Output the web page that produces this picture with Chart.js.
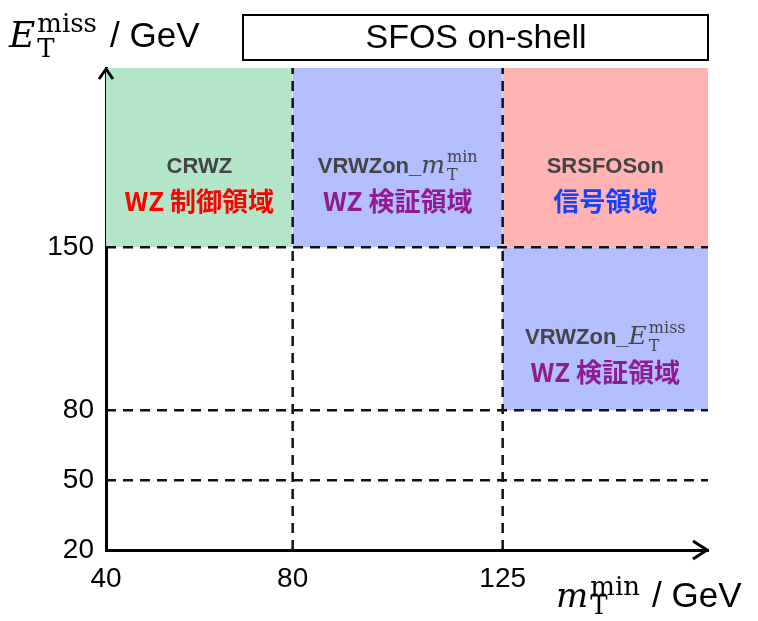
<!DOCTYPE html>
<html>
<head>
<meta charset="utf-8">
<script src="https://cdn.jsdelivr.net/npm/chart.js@4.4.1/dist/chart.umd.min.js"></script>
<style>
  html, body { margin: 0; padding: 0; background: #ffffff; }
  #wrap { width: 758px; height: 621px; }
</style>
</head>
<body>
<div id="wrap"><canvas id="c" width="758" height="621"></canvas></div>
<script>
// Plane of m_T^min (GeV) versus E_T^miss (GeV)
const xRange = [40, 169];
const yRange = [20, 227];
const xTicks = [40, 80, 125];
const yTicks = [20, 50, 80, 150];

// Selection regions: m_T^min window and E_T^miss window
const regionNames = ['CRWZ', 'VRWZon_', 'SRSFOSon', 'VRWZon_'];
const regionSymbols = [null, ['m', 'min', 'T'], null, ['E', 'miss', 'T']];
const regionKinds = ['WZ 制御領域', 'WZ 検証領域', '信号領域', 'WZ 検証領域'];
const regionXLow = [40, 80, 125, 125];
const regionXHigh = [80, 125, 169, 169];
const regionYLow = [150, 150, 150, 80];
const regionYHigh = [227, 227, 227, 150];
const regionColors = ['#b3e6c8', '#b3bfff', '#ffb3b3', '#b3bfff'];
const kindColors = ['#ff0000', '#901a90', '#1540ff', '#901a90'];

// Cut boundaries drawn as dashed lines
const mtCuts = [80, 125];
const metCuts = [50, 80, 150];

const SANS = '"Liberation Sans", Arial, sans-serif';
const SERIF = '"DejaVu Serif", serif';
const CJK = '"Noto Sans CJK JP", "Liberation Sans", sans-serif';

const datasets = [];
regionNames.forEach((name, i) => {
  datasets.push({
    label: name,
    order: 2,
    data: [{ x: regionXLow[i], y: regionYHigh[i] }, { x: regionXHigh[i], y: regionYHigh[i] }],
    fill: { value: regionYLow[i] },
    backgroundColor: regionColors[i],
    borderWidth: 0,
    pointRadius: 0
  });
});
const dashStyle = { order: 1, borderColor: '#111111', borderWidth: 2.5, borderDash: [10, 7], pointRadius: 0, fill: false };
metCuts.forEach(v => {
  datasets.push(Object.assign({ label: 'met' + v, data: [{ x: xRange[0], y: v }, { x: xRange[1], y: v }] }, dashStyle));
});
mtCuts.forEach(v => {
  datasets.push(Object.assign({ label: 'mt' + v, data: [{ x: v, y: yRange[0] }, { x: v, y: yRange[1] }] }, dashStyle));
});

// Italic symbol with stacked superscript and subscript
function symbolWidth(ctx, sym, size, subSize) {
  ctx.font = 'italic ' + size + 'px ' + SERIF;
  const b = ctx.measureText(sym[0]).width;
  ctx.font = subSize + 'px ' + SERIF;
  return b + 2 + Math.max(ctx.measureText(sym[1]).width, ctx.measureText(sym[2]).width);
}
function drawSymbol(ctx, x, baseline, sym, size, subSize, color, supRise, subDrop) {
  ctx.fillStyle = color;
  ctx.textAlign = 'left';
  ctx.textBaseline = 'alphabetic';
  ctx.font = 'italic ' + size + 'px ' + SERIF;
  ctx.fillText(sym[0], x, baseline);
  const bx = x + ctx.measureText(sym[0]).width + 2;
  ctx.font = subSize + 'px ' + SERIF;
  ctx.fillText(sym[1], bx, baseline - supRise);
  ctx.fillText(sym[2], bx, baseline + subDrop);
}

const decorations = {
  id: 'decorations',
  afterDraw(chart) {
    const ctx = chart.ctx;
    const xs = chart.scales.x, ys = chart.scales.y;
    const area = chart.chartArea;
    ctx.save();

    // axis arrowheads
    ctx.strokeStyle = '#000';
    ctx.lineWidth = 3;
    ctx.lineJoin = 'miter';
    ctx.lineCap = 'butt';
    ctx.beginPath();
    ctx.moveTo(area.left - 7, area.top + 11);
    ctx.lineTo(area.left, area.top + 1);
    ctx.lineTo(area.left + 7, area.top + 11);
    ctx.stroke();
    ctx.beginPath();
    ctx.moveTo(area.right - 15, area.bottom - 9);
    ctx.lineTo(area.right - 1, area.bottom);
    ctx.lineTo(area.right - 15, area.bottom + 9);
    ctx.stroke();

    // region labels
    regionNames.forEach((name, i) => {
      const cx = (xs.getPixelForValue(regionXLow[i]) + xs.getPixelForValue(regionXHigh[i])) / 2;
      const cy = (ys.getPixelForValue(regionYLow[i]) + ys.getPixelForValue(regionYHigh[i])) / 2;
      ctx.textBaseline = 'alphabetic';
      ctx.font = 'bold 22px ' + SANS;
      const nw = ctx.measureText(name).width;
      const sw = regionSymbols[i] ? symbolWidth(ctx, regionSymbols[i], 25, 16) : 0;
      const x0 = cx - (nw + sw) / 2;
      const base1 = cy + 15;
      ctx.font = 'bold 22px ' + SANS;
      ctx.fillStyle = '#444444';
      ctx.textAlign = 'left';
      ctx.fillText(name, x0, base1);
      if (regionSymbols[i]) drawSymbol(ctx, x0 + nw, base1, regionSymbols[i], 25, 16, '#444444', 11, 7);
      ctx.font = 'bold 26px ' + CJK;
      ctx.fillStyle = kindColors[i];
      ctx.textAlign = 'center';
      ctx.textBaseline = 'middle';
      ctx.fillText(regionKinds[i], cx, cy + 43);
    });

    // title box
    ctx.strokeStyle = '#000';
    ctx.lineWidth = 2;
    ctx.strokeRect(243, 15, 465, 45);
    ctx.fillStyle = '#000';
    ctx.font = '34px ' + SANS;
    ctx.textAlign = 'center';
    ctx.textBaseline = 'middle';
    ctx.fillText('SFOS on-shell', 476, 39);

    // axis titles
    drawSymbol(ctx, 9, 47, ['E', 'miss', 'T'], 36, 26, '#000', 15, 10);
    ctx.font = '35px ' + SANS;
    ctx.fillStyle = '#000';
    ctx.textAlign = 'left';
    ctx.textBaseline = 'alphabetic';
    ctx.fillText('/ GeV', 110, 47);
    drawSymbol(ctx, 556, 607, ['m', 'min', 'T'], 34, 26, '#000', 12, 7);
    ctx.font = '35px ' + SANS;
    ctx.fillStyle = '#000';
    ctx.textAlign = 'left';
    ctx.fillText('/ GeV', 652, 607);
    ctx.restore();
  }
};

new Chart(document.getElementById('c'), {
  type: 'line',
  data: { datasets },
  options: {
    responsive: false,
    animation: false,
    events: [],
    layout: { padding: { left: 0, top: 68, right: 50, bottom: 30 } },
    plugins: { legend: { display: false }, tooltip: { enabled: false } },
    scales: {
      x: {
        type: 'linear',
        min: xRange[0],
        max: xRange[1],
        z: 1,
        grid: { display: false, drawTicks: false },
        border: { display: true, color: '#000', width: 3 },
        afterBuildTicks: axis => { axis.ticks = xTicks.map(v => ({ value: v })); },
        afterFit: axis => { axis.height = 41; },
        ticks: { color: '#000', font: { family: SANS, size: 28 }, padding: 12, maxRotation: 0, autoSkip: false, callback: v => String(v) }
      },
      y: {
        type: 'linear',
        min: yRange[0],
        max: yRange[1],
        z: 1,
        grid: { display: false, drawTicks: false },
        border: { display: true, color: '#000', width: 3 },
        afterBuildTicks: axis => { axis.ticks = yTicks.map(v => ({ value: v })); },
        afterFit: axis => { axis.width = 106; },
        ticks: { color: '#000', font: { family: SANS, size: 28 }, padding: 12, autoSkip: false, callback: v => String(v) }
      }
    }
  },
  plugins: [decorations]
});
</script>
</body>
</html>
